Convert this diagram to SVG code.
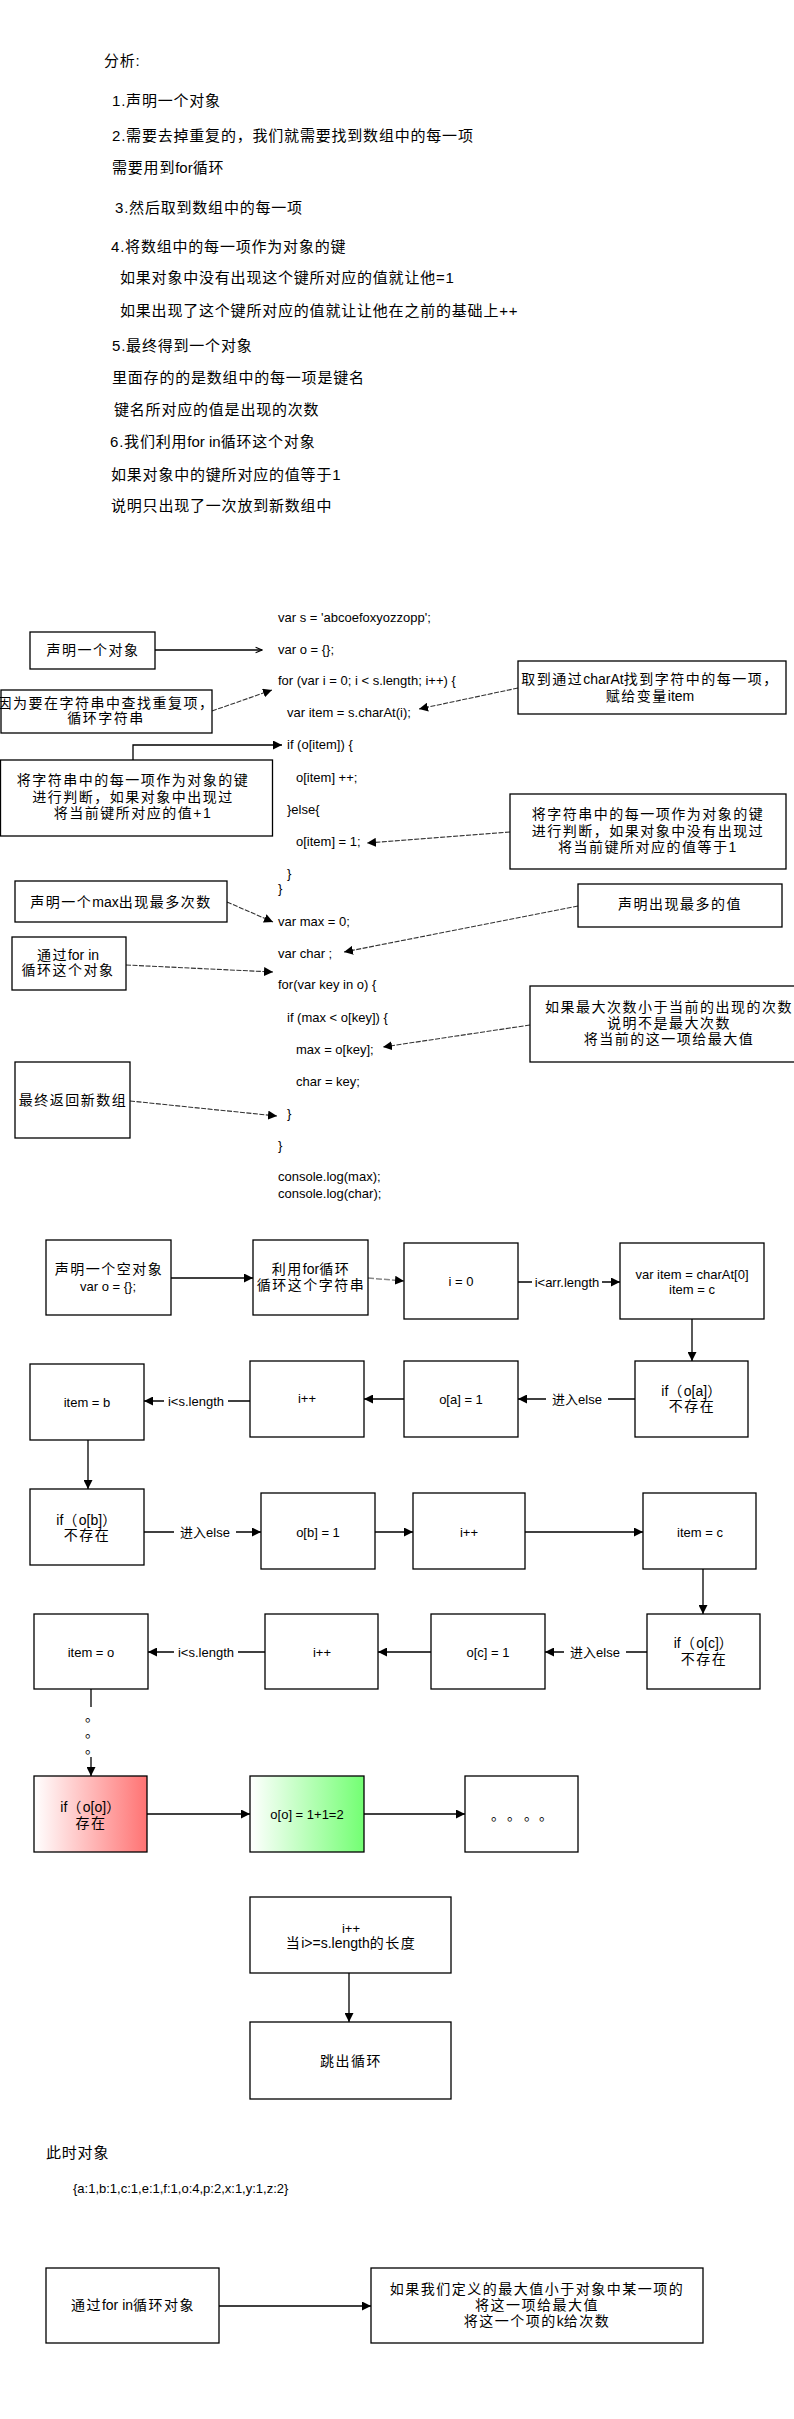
<svg xmlns="http://www.w3.org/2000/svg" width="794" height="2419" viewBox="0 0 794 2419">
<style>
text{font-family:"Liberation Sans","Noto Sans CJK SC",sans-serif;fill:#000}
.top{font-size:15px;letter-spacing:0.8px}
.t{font-size:14px;letter-spacing:1.5px;text-anchor:middle}
.c{font-size:13px}
.cm{font-size:13px;text-anchor:middle}
.lb{font-size:13px;text-anchor:middle}
.la{letter-spacing:0}
.dot{font-family:"Noto Sans CJK SC",sans-serif;font-size:14px}
.box{fill:#fff;stroke:#000;stroke-width:1.3}
.ln{fill:none;stroke:#000;stroke-width:1.3}
.dl{fill:none;stroke:#333;stroke-width:1.1;stroke-dasharray:5 1.5}
.gr{fill:none;stroke:#888;stroke-width:1.5;stroke-dasharray:6 2}
.bg{fill:#fff}
</style>
<defs>
<marker id="arr" viewBox="0 0 10 10" refX="10" refY="5" markerWidth="9" markerHeight="9" markerUnits="userSpaceOnUse" orient="auto">
<path d="M0,0 L10,5 L0,10 z" fill="#000"/>
</marker>
<marker id="open" viewBox="0 0 10 10" refX="9" refY="5" markerWidth="8" markerHeight="8" markerUnits="userSpaceOnUse" orient="auto">
<path d="M1,1.5 L9,5 L1,8.5" fill="none" stroke="#000" stroke-width="1.3"/>
</marker>
<linearGradient id="red" x1="0" y1="0" x2="1" y2="0">
<stop offset="0" stop-color="#ffffff"/>
<stop offset="1" stop-color="#ff7373"/>
</linearGradient>
<linearGradient id="green" x1="0" y1="0" x2="1" y2="0">
<stop offset="0" stop-color="#ffffff"/>
<stop offset="1" stop-color="#73ff73"/>
</linearGradient>
</defs>
<rect width="794" height="2419" fill="#fff"/>

<g id="analysis">
<text class="top" x="104" y="66">分析:</text>
<text class="top" x="112" y="106">1.声明一个对象</text>
<text class="top" x="112" y="141">2.需要去掉重复的，我们就需要找到数组中的每一项</text>
<text class="top" x="112" y="173">需要用到<tspan class="la">for</tspan>循环</text>
<text class="top" x="115" y="213">3.然后取到数组中的每一项</text>
<text class="top" x="111" y="252">4.将数组中的每一项作为对象的键</text>
<text class="top" x="120" y="283">如果对象中没有出现这个键所对应的值就让他=1</text>
<text class="top" x="120" y="316">如果出现了这个键所对应的值就让让他在之前的基础上++</text>
<text class="top" x="112" y="351">5.最终得到一个对象</text>
<text class="top" x="112" y="383">里面存的的是数组中的每一项是键名</text>
<text class="top" x="114" y="415">键名所对应的值是出现的次数</text>
<text class="top" x="110" y="447">6.我们利用<tspan class="la">for in</tspan>循环这个对象</text>
<text class="top" x="111" y="480">如果对象中的键所对应的值等于1</text>
<text class="top" x="111" y="511">说明只出现了一次放到新数组中</text>
</g>

<g id="code">
<text class="c" x="278" y="621.5">var s = 'abcoefoxyozzopp';</text>
<text class="c" x="278" y="653.5">var o = {};</text>
<text class="c" x="278" y="684.5">for (var i = 0; i &lt; s.length; i++) {</text>
<text class="c" x="287" y="716.5">var item = s.charAt(i);</text>
<text class="c" x="287" y="748.5">if (o[item]) {</text>
<text class="c" x="296" y="781.5">o[item] ++;</text>
<text class="c" x="287" y="813.5">}else{</text>
<text class="c" x="296" y="845.5">o[item] = 1;</text>
<text class="c" x="287" y="877.5">}</text>
<text class="c" x="278" y="892.5">}</text>
<text class="c" x="278" y="925.5">var max = 0;</text>
<text class="c" x="278" y="957.5">var char ;</text>
<text class="c" x="278" y="988.5">for(var key in o) {</text>
<text class="c" x="287" y="1021.5">if (max &lt; o[key]) {</text>
<text class="c" x="296" y="1053.5">max = o[key];</text>
<text class="c" x="296" y="1085.5">char = key;</text>
<text class="c" x="287" y="1117.5">}</text>
<text class="c" x="278" y="1149.5">}</text>
<text class="c" x="278" y="1180.5">console.log(max);</text>
<text class="c" x="278" y="1197.5">console.log(char);</text>
</g>

<g id="connectors">
<line class="ln" x1="155" y1="650" x2="262" y2="650" marker-end="url(#open)"/>
<line class="dl" x1="212" y1="711" x2="272" y2="690" marker-end="url(#arr)"/>
<polyline class="ln" points="133,760 133,745 282,745" marker-end="url(#arr)"/>
<line class="dl" x1="518" y1="688" x2="419" y2="709" marker-end="url(#arr)"/>
<line class="dl" x1="510" y1="832" x2="367" y2="843" marker-end="url(#arr)"/>
<line class="dl" x1="227" y1="902" x2="273" y2="922" marker-end="url(#arr)"/>
<line class="dl" x1="578" y1="906" x2="344" y2="952" marker-end="url(#arr)"/>
<line class="dl" x1="126" y1="965" x2="273" y2="972" marker-end="url(#arr)"/>
<line class="dl" x1="530" y1="1025" x2="383" y2="1047" marker-end="url(#arr)"/>
<line class="dl" x1="130" y1="1101" x2="277" y2="1116" marker-end="url(#arr)"/>

<line class="ln" x1="171" y1="1278" x2="253" y2="1278" marker-end="url(#arr)"/>
<line class="gr" x1="368" y1="1278" x2="404" y2="1281" marker-end="url(#arr)"/>
<line class="ln" x1="518" y1="1282" x2="620" y2="1282" marker-end="url(#arr)"/>
<line class="ln" x1="692" y1="1319" x2="692" y2="1361" marker-end="url(#arr)"/>
<line class="ln" x1="635" y1="1399" x2="518" y2="1399" marker-end="url(#arr)"/>
<line class="ln" x1="404" y1="1399" x2="364" y2="1399" marker-end="url(#arr)"/>
<line class="ln" x1="250" y1="1401" x2="144" y2="1401" marker-end="url(#arr)"/>
<line class="ln" x1="88" y1="1440" x2="88" y2="1489" marker-end="url(#arr)"/>
<line class="ln" x1="144" y1="1532" x2="261" y2="1532" marker-end="url(#arr)"/>
<line class="ln" x1="375" y1="1532" x2="413" y2="1532" marker-end="url(#arr)"/>
<line class="ln" x1="525" y1="1532" x2="643" y2="1532" marker-end="url(#arr)"/>
<line class="ln" x1="703" y1="1569" x2="703" y2="1614" marker-end="url(#arr)"/>
<line class="ln" x1="647" y1="1652" x2="545" y2="1652" marker-end="url(#arr)"/>
<line class="ln" x1="431" y1="1652" x2="378" y2="1652" marker-end="url(#arr)"/>
<line class="ln" x1="265" y1="1652" x2="148" y2="1652" marker-end="url(#arr)"/>
<line class="ln" x1="91" y1="1689" x2="91" y2="1707"/>
<line class="ln" x1="91" y1="1757" x2="91" y2="1776" marker-end="url(#arr)"/>
<line class="ln" x1="147" y1="1814" x2="250" y2="1814" marker-end="url(#arr)"/>
<line class="ln" x1="364" y1="1814" x2="465" y2="1814" marker-end="url(#arr)"/>
<line class="ln" x1="349" y1="1973" x2="349" y2="2022" marker-end="url(#arr)"/>
<line class="ln" x1="219" y1="2306" x2="371" y2="2306" marker-end="url(#arr)"/>

<rect class="bg" x="532" y="1273" width="70" height="18"/>
<text class="lb" x="567" y="1287">i&lt;arr.length</text>
<rect class="bg" x="546" y="1390" width="62" height="18"/>
<text class="lb" x="577" y="1404">进入else</text>
<rect class="bg" x="164" y="1392" width="64" height="18"/>
<text class="lb" x="196" y="1406">i&lt;s.length</text>
<rect class="bg" x="174" y="1523" width="62" height="18"/>
<text class="lb" x="205" y="1537">进入else</text>
<rect class="bg" x="564" y="1643" width="62" height="18"/>
<text class="lb" x="595" y="1657">进入else</text>
<rect class="bg" x="174" y="1643" width="64" height="18"/>
<text class="lb" x="206" y="1657">i&lt;s.length</text>
</g>

<g id="note-declare">
<rect class="box" x="30" y="632" width="125" height="37"/>
<text class="t" x="93" y="655">声明一个对象</text>
</g>
<g id="note-loop-string">
<rect class="box" x="1" y="690" width="211" height="43"/>
<text class="t" x="106" y="708">因为要在字符串中查找重复项，</text>
<text class="t" x="106" y="723">循环字符串</text>
</g>
<g id="note-key-exists">
<rect class="box" x="0.5" y="760" width="272" height="76"/>
<text class="t" x="133" y="785">将字符串中的每一项作为对象的键</text>
<text class="t" x="133" y="802">进行判断，如果对象中出现过</text>
<text class="t" x="133" y="818">将当前键所对应的值+1</text>
</g>
<g id="note-charat">
<rect class="box" x="518" y="661" width="268" height="53"/>
<text class="t" x="650" y="684">取到通过<tspan class="la">charAt</tspan>找到字符中的每一项，</text>
<text class="t" x="650" y="701">赋给变量<tspan class="la">item</tspan></text>
</g>
<g id="note-key-missing">
<rect class="box" x="510" y="794" width="276" height="75"/>
<text class="t" x="648" y="819">将字符串中的每一项作为对象的键</text>
<text class="t" x="648" y="836">进行判断，如果对象中没有出现过</text>
<text class="t" x="648" y="852">将当前键所对应的值等于1</text>
</g>
<g id="note-max">
<rect class="box" x="15" y="881" width="212" height="41"/>
<text class="t" x="121" y="907">声明一个<tspan class="la">max</tspan>出现最多次数</text>
</g>
<g id="note-char">
<rect class="box" x="578" y="884" width="204" height="43"/>
<text class="t" x="680" y="909">声明出现最多的值</text>
</g>
<g id="note-forin">
<rect class="box" x="12" y="937" width="114" height="53"/>
<text class="t" x="68" y="960">通过<tspan class="la">for in</tspan></text>
<text class="t" x="68" y="975">循环这个对象</text>
</g>
<g id="note-compare">
<rect class="box" x="530" y="986" width="280" height="76"/>
<text class="t" x="669" y="1012">如果最大次数小于当前的出现的次数</text>
<text class="t" x="669" y="1028">说明不是最大次数</text>
<text class="t" x="669" y="1044">将当前的这一项给最大值</text>
</g>
<g id="note-return">
<rect class="box" x="15" y="1062" width="115" height="76"/>
<text class="t" x="73" y="1105">最终返回新数组</text>
</g>

<g id="n-declare-obj">
<rect class="box" x="46" y="1240" width="125" height="75"/>
<text class="t" x="109" y="1274">声明一个空对象</text>
<text class="cm" x="108" y="1291">var o = {};</text>
</g>
<g id="n-for-loop">
<rect class="box" x="253" y="1240" width="115" height="75"/>
<text class="t" x="311" y="1274">利用<tspan class="la">for</tspan>循环</text>
<text class="t" x="311" y="1290">循环这个字符串</text>
</g>
<g id="n-i0">
<rect class="box" x="404" y="1243" width="114" height="76"/>
<text class="cm" x="461" y="1286">i = 0</text>
</g>
<g id="n-item-c0">
<rect class="box" x="620" y="1243" width="144" height="76"/>
<text class="cm" x="692" y="1279">var item = charAt[0]</text>
<text class="cm" x="692" y="1294">item = c</text>
</g>
<g id="n-if-a">
<rect class="box" x="635" y="1361" width="113" height="76"/>
<text class="t" x="692" y="1396"><tspan class="la">if</tspan>（<tspan class="la">o[a]</tspan>）</text>
<text class="t" x="692" y="1411">不存在</text>
</g>
<g id="n-oa">
<rect class="box" x="404" y="1361" width="114" height="76"/>
<text class="cm" x="461" y="1404">o[a] = 1</text>
</g>
<g id="n-inc1">
<rect class="box" x="250" y="1361" width="114" height="76"/>
<text class="cm" x="307" y="1403">i++</text>
</g>
<g id="n-item-b">
<rect class="box" x="30" y="1364" width="114" height="76"/>
<text class="cm" x="87" y="1407">item = b</text>
</g>
<g id="n-if-b">
<rect class="box" x="30" y="1489" width="114" height="76"/>
<text class="t" x="87" y="1525"><tspan class="la">if</tspan>（<tspan class="la">o[b]</tspan>）</text>
<text class="t" x="87" y="1540">不存在</text>
</g>
<g id="n-ob">
<rect class="box" x="261" y="1493" width="114" height="76"/>
<text class="cm" x="318" y="1537">o[b] = 1</text>
</g>
<g id="n-inc2">
<rect class="box" x="413" y="1493" width="112" height="76"/>
<text class="cm" x="469" y="1537">i++</text>
</g>
<g id="n-item-c">
<rect class="box" x="643" y="1493" width="113" height="76"/>
<text class="cm" x="700" y="1537">item = c</text>
</g>
<g id="n-if-c">
<rect class="box" x="647" y="1614" width="113" height="75"/>
<text class="t" x="704" y="1648"><tspan class="la">if</tspan>（<tspan class="la">o[c]</tspan>）</text>
<text class="t" x="704" y="1664">不存在</text>
</g>
<g id="n-oc">
<rect class="box" x="431" y="1614" width="114" height="75"/>
<text class="cm" x="488" y="1657">o[c] = 1</text>
</g>
<g id="n-inc3">
<rect class="box" x="265" y="1614" width="113" height="75"/>
<text class="cm" x="322" y="1657">i++</text>
</g>
<g id="n-item-o">
<rect class="box" x="34" y="1614" width="114" height="75"/>
<text class="cm" x="91" y="1657">item = o</text>
</g>
<g id="dots-vertical">
<text class="dot" x="85" y="1721">。</text>
<text class="dot" x="85" y="1737">。</text>
<text class="dot" x="85" y="1753">。</text>
</g>
<g id="n-if-o">
<rect x="34" y="1776" width="113" height="76" fill="url(#red)" stroke="#000" stroke-width="1.3"/>
<text class="t" x="91" y="1812"><tspan class="la">if</tspan>（<tspan class="la">o[o]</tspan>）</text>
<text class="t" x="91" y="1828">存在</text>
</g>
<g id="n-oo">
<rect x="250" y="1776" width="114" height="76" fill="url(#green)" stroke="#000" stroke-width="1.3"/>
<text class="cm" x="307" y="1819">o[o] = 1+1=2</text>
</g>
<g id="n-more">
<rect class="box" x="465" y="1776" width="113" height="76"/>
<text class="dot" x="491 507 524 539" y="1820">。。。。</text>
</g>
<g id="n-inc-end">
<rect class="box" x="250" y="1897" width="201" height="76"/>
<text class="cm" x="351" y="1933">i++</text>
<text class="t" x="351" y="1948">当<tspan class="la">i&gt;=s.length</tspan>的长度</text>
</g>
<g id="n-break">
<rect class="box" x="250" y="2022" width="201" height="77"/>
<text class="t" x="351" y="2066">跳出循环</text>
</g>

<g id="object-state">
<text class="top" x="46" y="2158">此时对象</text>
<text class="c" x="73" y="2193">{a:1,b:1,c:1,e:1,f:1,o:4,p:2,x:1,y:1,z:2}</text>
</g>

<g id="n-forin-obj">
<rect class="box" x="46" y="2268" width="173" height="75"/>
<text class="t" x="133" y="2310">通过<tspan class="la">for in</tspan>循环对象</text>
</g>
<g id="n-compare-max">
<rect class="box" x="371" y="2268" width="332" height="75"/>
<text class="t" x="537" y="2294">如果我们定义的最大值小于对象中某一项的</text>
<text class="t" x="537" y="2310">将这一项给最大值</text>
<text class="t" x="537" y="2326">将这一个项的<tspan class="la">k</tspan>给次数</text>
</g>
</svg>
